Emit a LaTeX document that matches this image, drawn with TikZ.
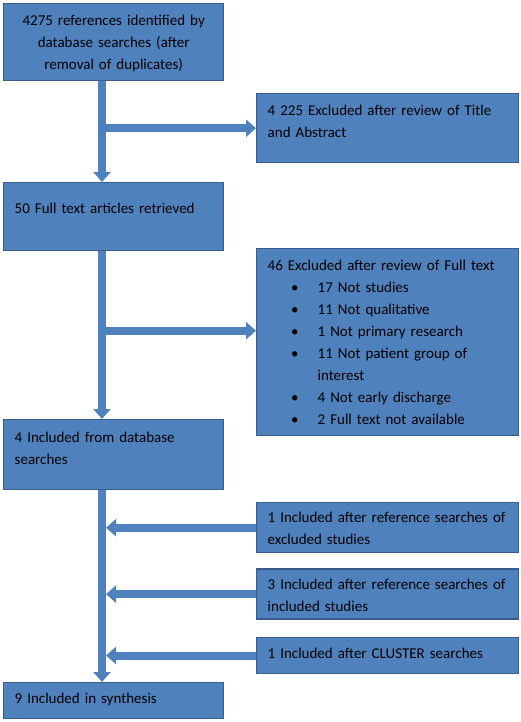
\documentclass[tikz,border=0pt]{standalone}
\usepackage{fontspec}
\setmainfont{Carlito}
\usepackage{tikz}
\usetikzlibrary{positioning,arrows.meta}
\definecolor{panelblue}{HTML}{4F81BD}
\definecolor{panelline}{HTML}{385D8A}
\newenvironment{reasons}{\begin{list}{\textbullet}{\setlength{\leftmargin}{50pt}\setlength{\labelsep}{19pt}%
  \setlength{\labelwidth}{31pt}\setlength{\itemsep}{0pt}\setlength{\parsep}{0pt}%
  \setlength{\topsep}{0pt}\setlength{\partopsep}{0pt}}}{\end{list}}

\begin{document}
\begin{tikzpicture}[x=1pt, y=-1pt,
        leftbox/.style={draw=panelline, fill=panelblue, line width=1.4pt, anchor=north west,
        inner xsep=11pt, inner ysep=0pt, align=left, text width=198pt, font=\fontsize{15}{22}\selectfont},
        rightbox/.style={leftbox, text width=240pt},
        flow/.style={draw=panelblue, line width=8pt, -{Triangle[width=17pt,length=10pt]}}]
        \useasboundingbox (0,0) rectangle (520,722);
        \coordinate (spine) at (102,0);
        \coordinate (spineedge) at (106,0);

        \node[leftbox, align=center, text height=22pt, text depth=55pt] (ident) at (3,3) {4275 references identified by\\ database searches (after\\ removal of duplicates)};
        \node[leftbox, text height=31pt, text depth=37pt] (full) at (3,182) {50 Full text articles retrieved};
        \node[leftbox, text height=23pt, text depth=47pt] (incdb) at (3,419) {4 Included from database\\ searches};
        \node[leftbox, text height=21pt, text depth=15pt] (synth) at (3,682) {9 Included in synthesis};

        \node[rightbox, text height=22pt, text depth=47pt] (exclta) at (256,93) {4 225 Excluded after review of Title\\ and Abstract};
        \node[rightbox, text height=22pt, text depth=165pt] (exclft) at (256,248) {46 Excluded after review of Full text
          \begin{reasons}
            \item 17 Not studies
            \item 11 Not qualitative
            \item 1 Not primary research
            \item 11 Not patient group of\\ interest
            \item 4 Not early discharge
            \item 2 Full text not available
          \end{reasons}};
        \node[rightbox, text height=20pt, text depth=30pt] (refexcl) at (256,502) {1 Included after reference searches of\\ excluded studies};
        \node[rightbox, text height=20pt, text depth=30pt, below=15pt of refexcl.south west, anchor=north west] (refincl) {3 Included after reference searches of\\ included studies};
        \node[rightbox, text height=21pt, text depth=15pt, below=17pt of refincl.south west, anchor=north west] (cluster) {1 Included after CLUSTER searches};

        \draw[flow] (ident.south -| spine) -- (full.north -| spine);
        \draw[flow] (full.south -| spine) -- (incdb.north -| spine);
        \draw[flow] (incdb.south -| spine) -- (synth.north -| spine);
        \draw[flow] (exclta.west -| spine) -- (exclta.west);
        \draw[flow] ([yshift=11.5pt]exclft.west -| spine) -- ([yshift=11.5pt]exclft.west);
        \draw[flow] (refexcl.west) -- (refexcl.west -| spineedge);
        \draw[flow] (refincl.west) -- (refincl.west -| spineedge);
        \draw[flow] (cluster.west) -- (cluster.west -| spineedge);
\end{tikzpicture}
\end{document}
